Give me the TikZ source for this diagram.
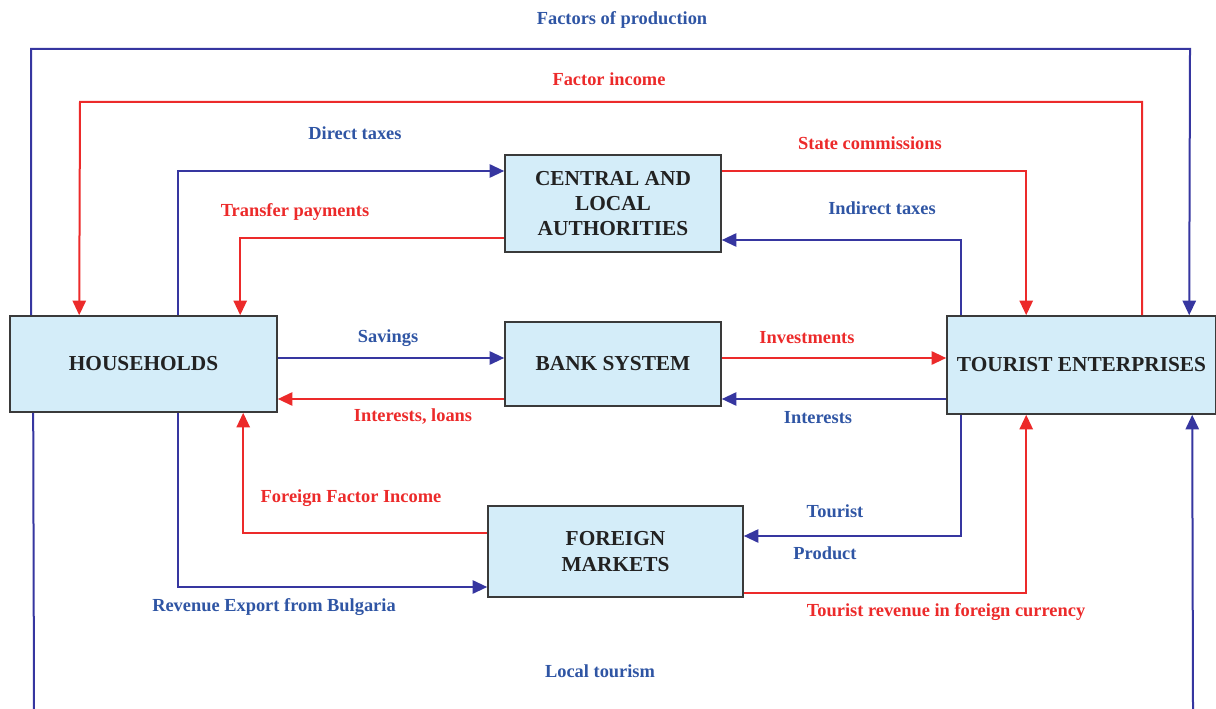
\documentclass[tikz,border=0pt]{standalone}
\usepackage{fontspec}
\setmainfont{Liberation Serif}
\usetikzlibrary{arrows.meta,shadows}
\definecolor{bleuligne}{HTML}{3636A0}
\definecolor{bleutexte}{HTML}{2F55A4}
\definecolor{rouge}{HTML}{EC2A2A}
\definecolor{bleuboite}{HTML}{D4EDF9}
\definecolor{grisbord}{HTML}{3A3A3A}
\definecolor{noirtexte}{HTML}{222222}
\begin{document}
\begin{tikzpicture}[x=0.75pt,y=-0.75pt]
	% Styles
	\tikzstyle{noeud}=[draw=grisbord,line width=1.2pt,fill=bleuboite,text=noirtexte,align=center,inner sep=0pt,
		font=\fontsize{16}{19}\selectfont\bfseries,drop shadow={shadow xshift=1pt,shadow yshift=-1pt,opacity=0.35}]
	\tikzstyle{flecheB}=[draw=bleuligne,line width=1.5pt,-{Triangle[length=11pt,width=10pt]}]
	\tikzstyle{flecheR}=[draw=rouge,line width=1.5pt,-{Triangle[length=11pt,width=10pt]}]
	\tikzstyle{ligneB}=[draw=bleuligne,line width=1.5pt]
	\tikzstyle{commentaireB}=[text=bleutexte,font=\fontsize{13.8}{16}\selectfont\bfseries]
	\tikzstyle{commentaireR}=[text=rouge,font=\fontsize{13.8}{16}\selectfont\bfseries]
	\useasboundingbox (0,0) rectangle (1216,709);
	% Boites
	\node[noeud,minimum width=200.25pt,minimum height=72pt] (HH) at (143.5,364) {HOUSEHOLDS};
	\node[noeud,minimum width=162pt,minimum height=72.75pt] (CLA) at (613,203.5) {CENTRAL AND\\LOCAL\\AUTHORITIES};
	\node[noeud,minimum width=162pt,minimum height=63pt] (BS) at (613,364) {BANK SYSTEM};
	\node[noeud,minimum width=191.25pt,minimum height=68.25pt] (FM) at (615.5,551.5) {FOREIGN\\MARKETS};
	\node[noeud,minimum width=201.75pt,minimum height=73.5pt] (TE) at (1081.5,365) {TOURIST ENTERPRISES};
	% Coudes et bords
	\coordinate (FPa) at (1190,49);
	\coordinate (FIa) at (80,102);
	\coordinate (LTa) at (34,709);
	\coordinate (LTb) at (1193,709);
	% Arcs
	\draw[flecheB] ([xshift=16.5pt]HH.north west) |- (FPa) -- ([xshift=182.25pt]TE.north west);
	\draw[flecheR] ([xshift=147pt]TE.north west) |- (FIa) -- ([xshift=52.5pt]HH.north west);
	\draw[flecheB] ([xshift=126.75pt]HH.north west) |- ([yshift=24.375pt]CLA.west);
	\draw[flecheR] ([yshift=-25.875pt]CLA.west) -| ([xshift=173.25pt]HH.north west);
	\draw[flecheR] ([yshift=24.375pt]CLA.east) -| ([xshift=60pt]TE.north west);
	\draw[flecheB] ([xshift=11.25pt]TE.north west) |- ([yshift=-27.375pt]CLA.east);
	\draw[flecheB] ([yshift=4.5pt]HH.east) -- ([yshift=4.5pt]BS.west);
	\draw[flecheR] ([yshift=-26.25pt]BS.west) -- ([yshift=-26.25pt]HH.east);
	\draw[flecheR] ([yshift=4.5pt]BS.east) -- ([yshift=5.25pt]TE.west);
	\draw[flecheB] ([yshift=-25.5pt]TE.west) -- ([yshift=-26.25pt]BS.east);
	\draw[flecheR] ([yshift=13.875pt]FM.west) -| ([xshift=175.5pt]HH.south west);
	\draw[flecheB] ([xshift=126.75pt]HH.south west) |- ([yshift=-26.625pt]FM.west);
	\draw[flecheB] ([xshift=11.25pt]TE.south west) |- ([yshift=11.625pt]FM.east);
	\draw[flecheR] ([yshift=-31.125pt]FM.east) -| ([xshift=60pt]TE.south west);
	\draw[ligneB] ([xshift=18pt]HH.south west) -- (LTa);
	\draw[flecheB] (LTb) -- ([xshift=184.5pt]TE.south west);
	% Etiquettes
	\node[commentaireB] (lFP) at (622,20) {Factors of production};
	\node[commentaireR] (lFI) at (609,79) {Factor income};
	\node[commentaireB] (lDT) at (355,133) {Direct taxes};
	\node[commentaireR] (lSC) at (870,143) {State commissions};
	\node[commentaireR] (lTP) at (295,212) {Transfer payments};
	\node[commentaireB] (lIT) at (882,208) {Indirect taxes};
	\node[commentaireB] (lSV) at (388,338) {Savings};
	\node[commentaireR] (lIV) at (807,338) {Investments};
	\node[commentaireR] (lIL) at (413,417) {Interests, loans};
	\node[commentaireB] (lIN) at (818,418) {Interests};
	\node[commentaireR] (lFF) at (351,498) {Foreign Factor Income};
	\node[commentaireB] (lTo) at (835,511) {Tourist};
	\node[commentaireB] (lPr) at (825,553) {Product};
	\node[commentaireB] (lRE) at (274,607) {Revenue Export from Bulgaria};
	\node[commentaireR] (lTR) at (946,612) {Tourist revenue in foreign currency};
	\node[commentaireB] (lLT) at (600,671) {Local tourism};
\end{tikzpicture}
\end{document}
